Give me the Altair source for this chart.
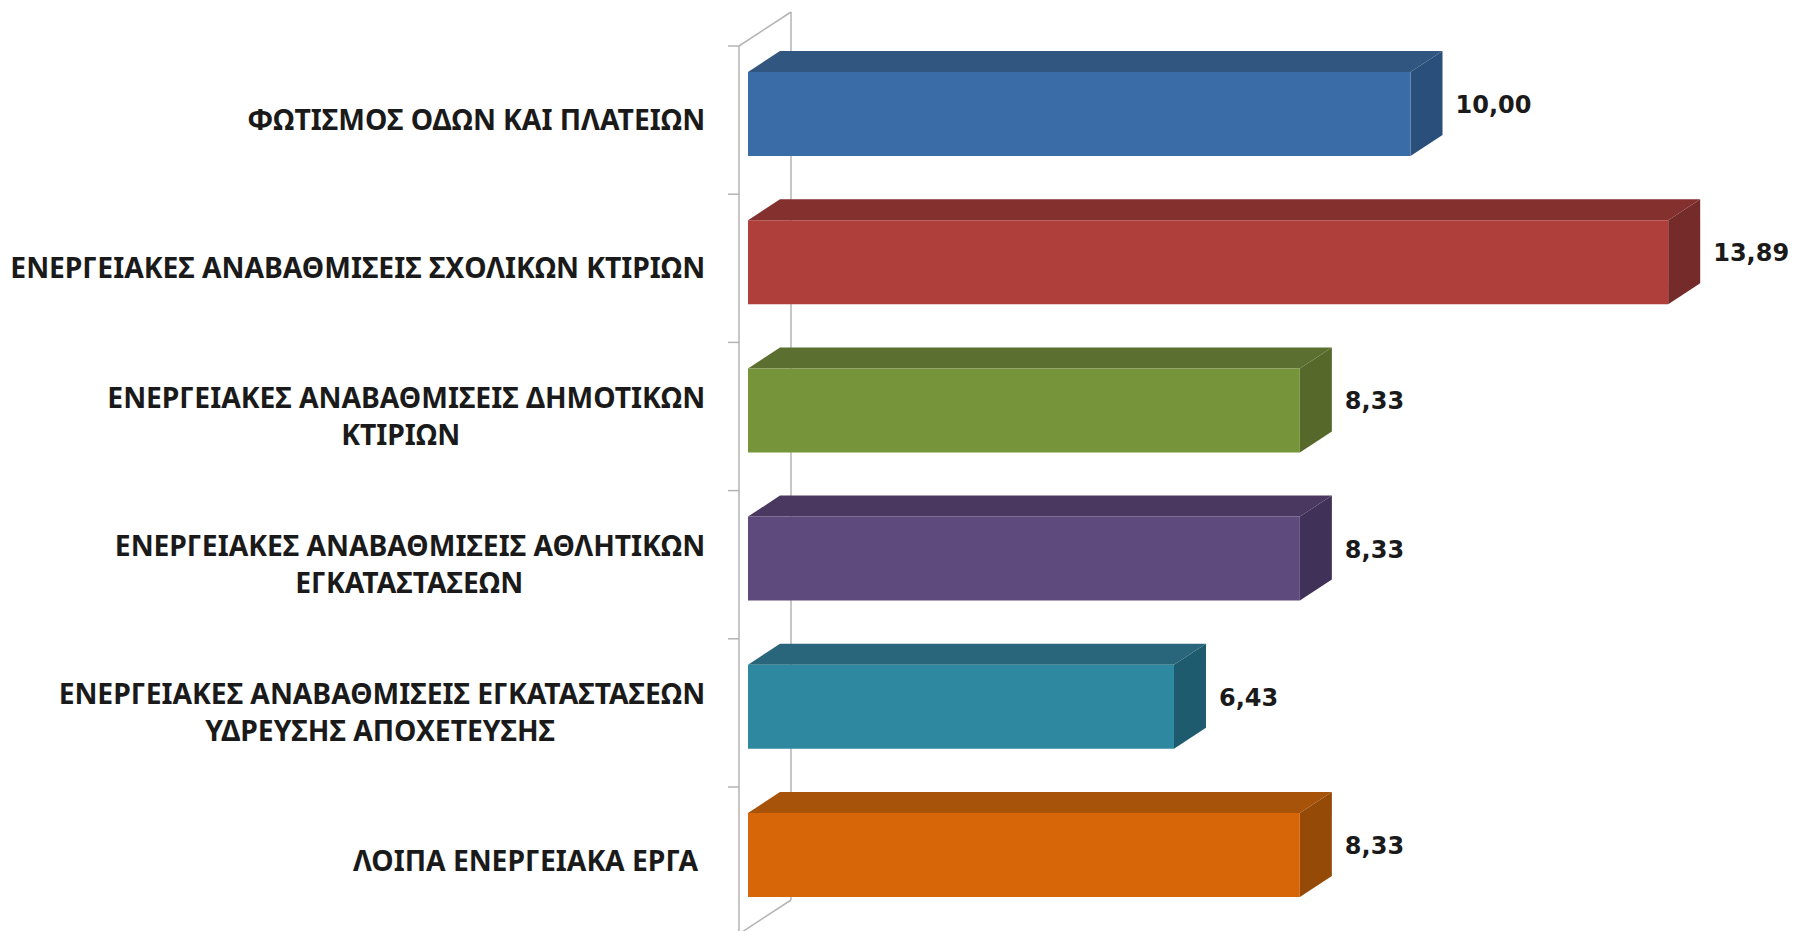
import altair as alt
import pandas as pd

CATEGORIES = [
    ["ΦΩΤΙΣΜΟΣ ΟΔΩΝ ΚΑΙ ΠΛΑΤΕΙΩΝ"],
    ["ΕΝΕΡΓΕΙΑΚΕΣ ΑΝΑΒΑΘΜΙΣΕΙΣ ΣΧΟΛΙΚΩΝ ΚΤΙΡΙΩΝ"],
    ["ΕΝΕΡΓΕΙΑΚΕΣ ΑΝΑΒΑΘΜΙΣΕΙΣ ΔΗΜΟΤΙΚΩΝ", "ΚΤΙΡΙΩΝ"],
    ["ΕΝΕΡΓΕΙΑΚΕΣ ΑΝΑΒΑΘΜΙΣΕΙΣ ΑΘΛΗΤΙΚΩΝ", "ΕΓΚΑΤΑΣΤΑΣΕΩΝ"],
    ["ΕΝΕΡΓΕΙΑΚΕΣ ΑΝΑΒΑΘΜΙΣΕΙΣ ΕΓΚΑΤΑΣΤΑΣΕΩΝ", "ΥΔΡΕΥΣΗΣ ΑΠΟΧΕΤΕΥΣΗΣ"],
    ["ΛΟΙΠΑ ΕΝΕΡΓΕΙΑΚΑ ΕΡΓΑ"],
]
VALUES = [10.00, 13.89, 8.33, 8.33, 6.43, 8.33]
VALUE_LABELS = ["10,00", "13,89", "8,33", "8,33", "6,43", "8,33"]
FRONT = ["#3A6DA8", "#AE3F3A", "#76953A", "#5E4A7C", "#2E88A0", "#D66608"]
TOP = ["#315680", "#83302F", "#5B7030", "#4A3860", "#29667C", "#A75309"]
SIDE = ["#2A4F7A", "#752B2A", "#56692B", "#3F3158", "#1E5B6E", "#954B07"]
LINE_INDENT = {(2, 1): 245, (3, 1): 182, (4, 1): 150, (5, 0): 7}

W, H = 1782, 923
PX_X, PX_Y = 66.25, 148.2      # pixels per value unit / per category slot
DX, DY = 32 / PX_X, 21 / PX_Y  # depth of the 3-D effect
TOP_F, BOT_F = 26 / PX_Y, 110 / PX_Y
x_scale = alt.Scale(domain=[-740 / PX_X, (W - 740) / PX_X], nice=False, zero=False)
y_scale = alt.Scale(domain=[-38 / PX_Y, (H - 38) / PX_Y], reverse=True, nice=False, zero=False)
X = lambda f: alt.X(f, type="quantitative", scale=x_scale, axis=None)
Y = lambda f: alt.Y(f, type="quantitative", scale=y_scale, axis=None)
C = lambda f: alt.Color(f, type="nominal", scale=None)
GREY = "#B4B4B4"
WALL_L, WALL_R = -9 / PX_X, 43 / PX_X
WALL_TOP, WALL_BOT, FLOOR = -34 / PX_Y, 854 / PX_Y, 888 / PX_Y

front = pd.DataFrame([
    dict(x=0, x2=v, y=i + TOP_F, y2=i + BOT_F, c=FRONT[i])
    for i, v in enumerate(VALUES)])
top = pd.DataFrame([
    r for i, v in enumerate(VALUES) for r in (
        dict(k=i, x=0, x2=v, y=i + TOP_F, c=TOP[i]),
        dict(k=i, x=DX, x2=v + DX, y=i + TOP_F - DY, c=TOP[i]))])
side = pd.DataFrame([
    r for i, v in enumerate(VALUES) for r in (
        dict(k=i, x=v, y=i + TOP_F, y2=i + BOT_F, c=SIDE[i]),
        dict(k=i, x=v + DX, y=i + TOP_F - DY, y2=i + BOT_F - DY, c=SIDE[i]))])
value_df = pd.DataFrame([
    dict(x=v + DX, y=i + (TOP_F + BOT_F) / 2, t=VALUE_LABELS[i])
    for i, v in enumerate(VALUES)])

walls = pd.DataFrame([
    dict(x=WALL_L, x2=WALL_L, y=0, y2=FLOOR),
    dict(x=WALL_R, x2=WALL_R, y=WALL_TOP, y2=WALL_BOT),
    dict(x=WALL_L, x2=WALL_R, y=0, y2=WALL_TOP),
    dict(x=WALL_L, x2=WALL_R, y=FLOOR, y2=WALL_BOT),
] + [dict(x=-20 / PX_X, x2=WALL_L, y=i, y2=i) for i in range(len(VALUES))])

layers = [
    alt.Chart(walls).mark_rule(color=GREY, strokeWidth=1.5).encode(
        x=X("x"), x2="x2", y=Y("y"), y2="y2"),
    alt.Chart(top).mark_area(orient="horizontal").encode(
        x=X("x"), x2="x2", y=Y("y"), color=C("c"), detail="k:N"),
    alt.Chart(side).mark_area(orient="vertical").encode(
        x=X("x"), y=Y("y"), y2="y2", color=C("c"), detail="k:N"),
    alt.Chart(front).mark_rect().encode(
        x=X("x"), x2="x2", y=Y("y"), y2="y2", color=C("c")),
    alt.Chart(value_df).mark_text(
        align="left", baseline="middle", dx=13, dy=-8, font="DejaVu Sans",
        fontWeight="bold", fontSize=24, color="#1A1A1A").encode(
        x=X("x"), y=Y("y"), text="t:N"),
]

LINE_GAP = 18.5 / PX_Y
LABEL_X = -43 / PX_X
for i, lines in enumerate(CATEGORIES):
    for j, line in enumerate(lines):
        off = 0 if len(lines) == 1 else (-LINE_GAP if j == 0 else LINE_GAP)
        indent = LINE_INDENT.get((i, j), 0)
        layers.append(
            alt.Chart(pd.DataFrame([dict(x=LABEL_X, y=i + 0.5 + off, t=line)])).mark_text(
                align="right", baseline="middle", dx=-indent, dy=2, font="Noto Sans",
                fontWeight="bold", fontSize=28.3, color="#1A1A1A").encode(
                x=X("x"), y=Y("y"), text="t:N"))

chart = alt.layer(*layers).properties(
    width=W, height=H, padding=0, background="white",
    autosize=alt.AutoSizeParams(type="none"),
).configure_view(stroke=None)

chart.save("out.html", embed_options={"renderer": "svg", "actions": False})
